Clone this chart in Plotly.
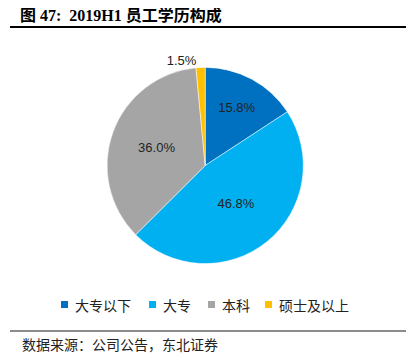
import plotly.graph_objects as go

categories = ["大专以下", "大专", "本科", "硕士及以上"]
values = [15.8, 46.8, 36.0, 1.5]
label_text = ["15.8%", "46.8%", "36.0%", "1.5%"]
colors = ["#0070C0", "#00B0F0", "#A5A5A5", "#FFC000"]

W, H = 420, 360
OFF = 8  # page body margin offset

fig = go.Figure()
fig.add_trace(go.Pie(
    labels=categories,
    values=values,
    text=label_text,
    textinfo="text",
    textposition=["inside", "inside", "inside", "outside"],
    insidetextorientation="horizontal",
    sort=False,
    direction="clockwise",
    rotation=0,
    marker=dict(colors=colors, line=dict(color="white", width=0.5)),
    textfont=dict(family="Liberation Sans, Arial, sans-serif", size=13, color="#222222"),
    domain=dict(x=[0.182, 0.757], y=[0.29, 0.835]),
    hoverinfo="label+text",
    showlegend=False,
))

annotations = [
    dict(text="<b>图 47:  2019H1 员工学历构成</b>", x=18, y=15,
         xanchor="left", yanchor="middle",
         font=dict(family="Liberation Serif, Noto Sans CJK SC, serif", size=16, color="black")),
    dict(text="数据来源：公司公告，东北证券", x=20, y=344,
         xanchor="left", yanchor="middle",
         font=dict(family="Noto Sans CJK SC, sans-serif", size=14, color="#222222")),
]
shapes = [
    dict(type="line", x0=10, x1=406, y0=27, y1=27, line=dict(color="black", width=2)),
    dict(type="line", x0=10, x1=406, y0=331, y1=331, line=dict(color="#666666", width=1.5)),
]

# custom legend: marker squares + category labels
legend_marker_x = [61, 149, 208, 265]
legend_y = 305
for cat, col, mx in zip(categories, colors, legend_marker_x):
    shapes.append(dict(type="rect", x0=mx, x1=mx + 7, y0=legend_y - 4, y1=legend_y + 3,
                       fillcolor=col, line=dict(width=0)))
    annotations.append(dict(text=cat, x=mx + 12, y=legend_y, xanchor="left", yanchor="middle",
                            font=dict(family="Noto Sans CJK SC, sans-serif", size=14, color="#222222")))

for a in annotations:
    a["x"] = (a["x"] - OFF) / W
    a["y"] = 1 - (a["y"] - OFF) / H
    a["xref"] = "paper"
    a["yref"] = "paper"
    a["showarrow"] = False
for s in shapes:
    s["x0"] = (s["x0"] - OFF) / W
    s["x1"] = (s["x1"] - OFF) / W
    s["y0"] = 1 - (s["y0"] - OFF) / H
    s["y1"] = 1 - (s["y1"] - OFF) / H
    s["xref"] = "paper"
    s["yref"] = "paper"

fig.update_layout(
    width=W, height=H,
    margin=dict(l=0, r=0, t=0, b=0),
    paper_bgcolor="white",
    plot_bgcolor="white",
    showlegend=False,
    annotations=annotations,
    shapes=shapes,
)

fig.write_html("out.html")
